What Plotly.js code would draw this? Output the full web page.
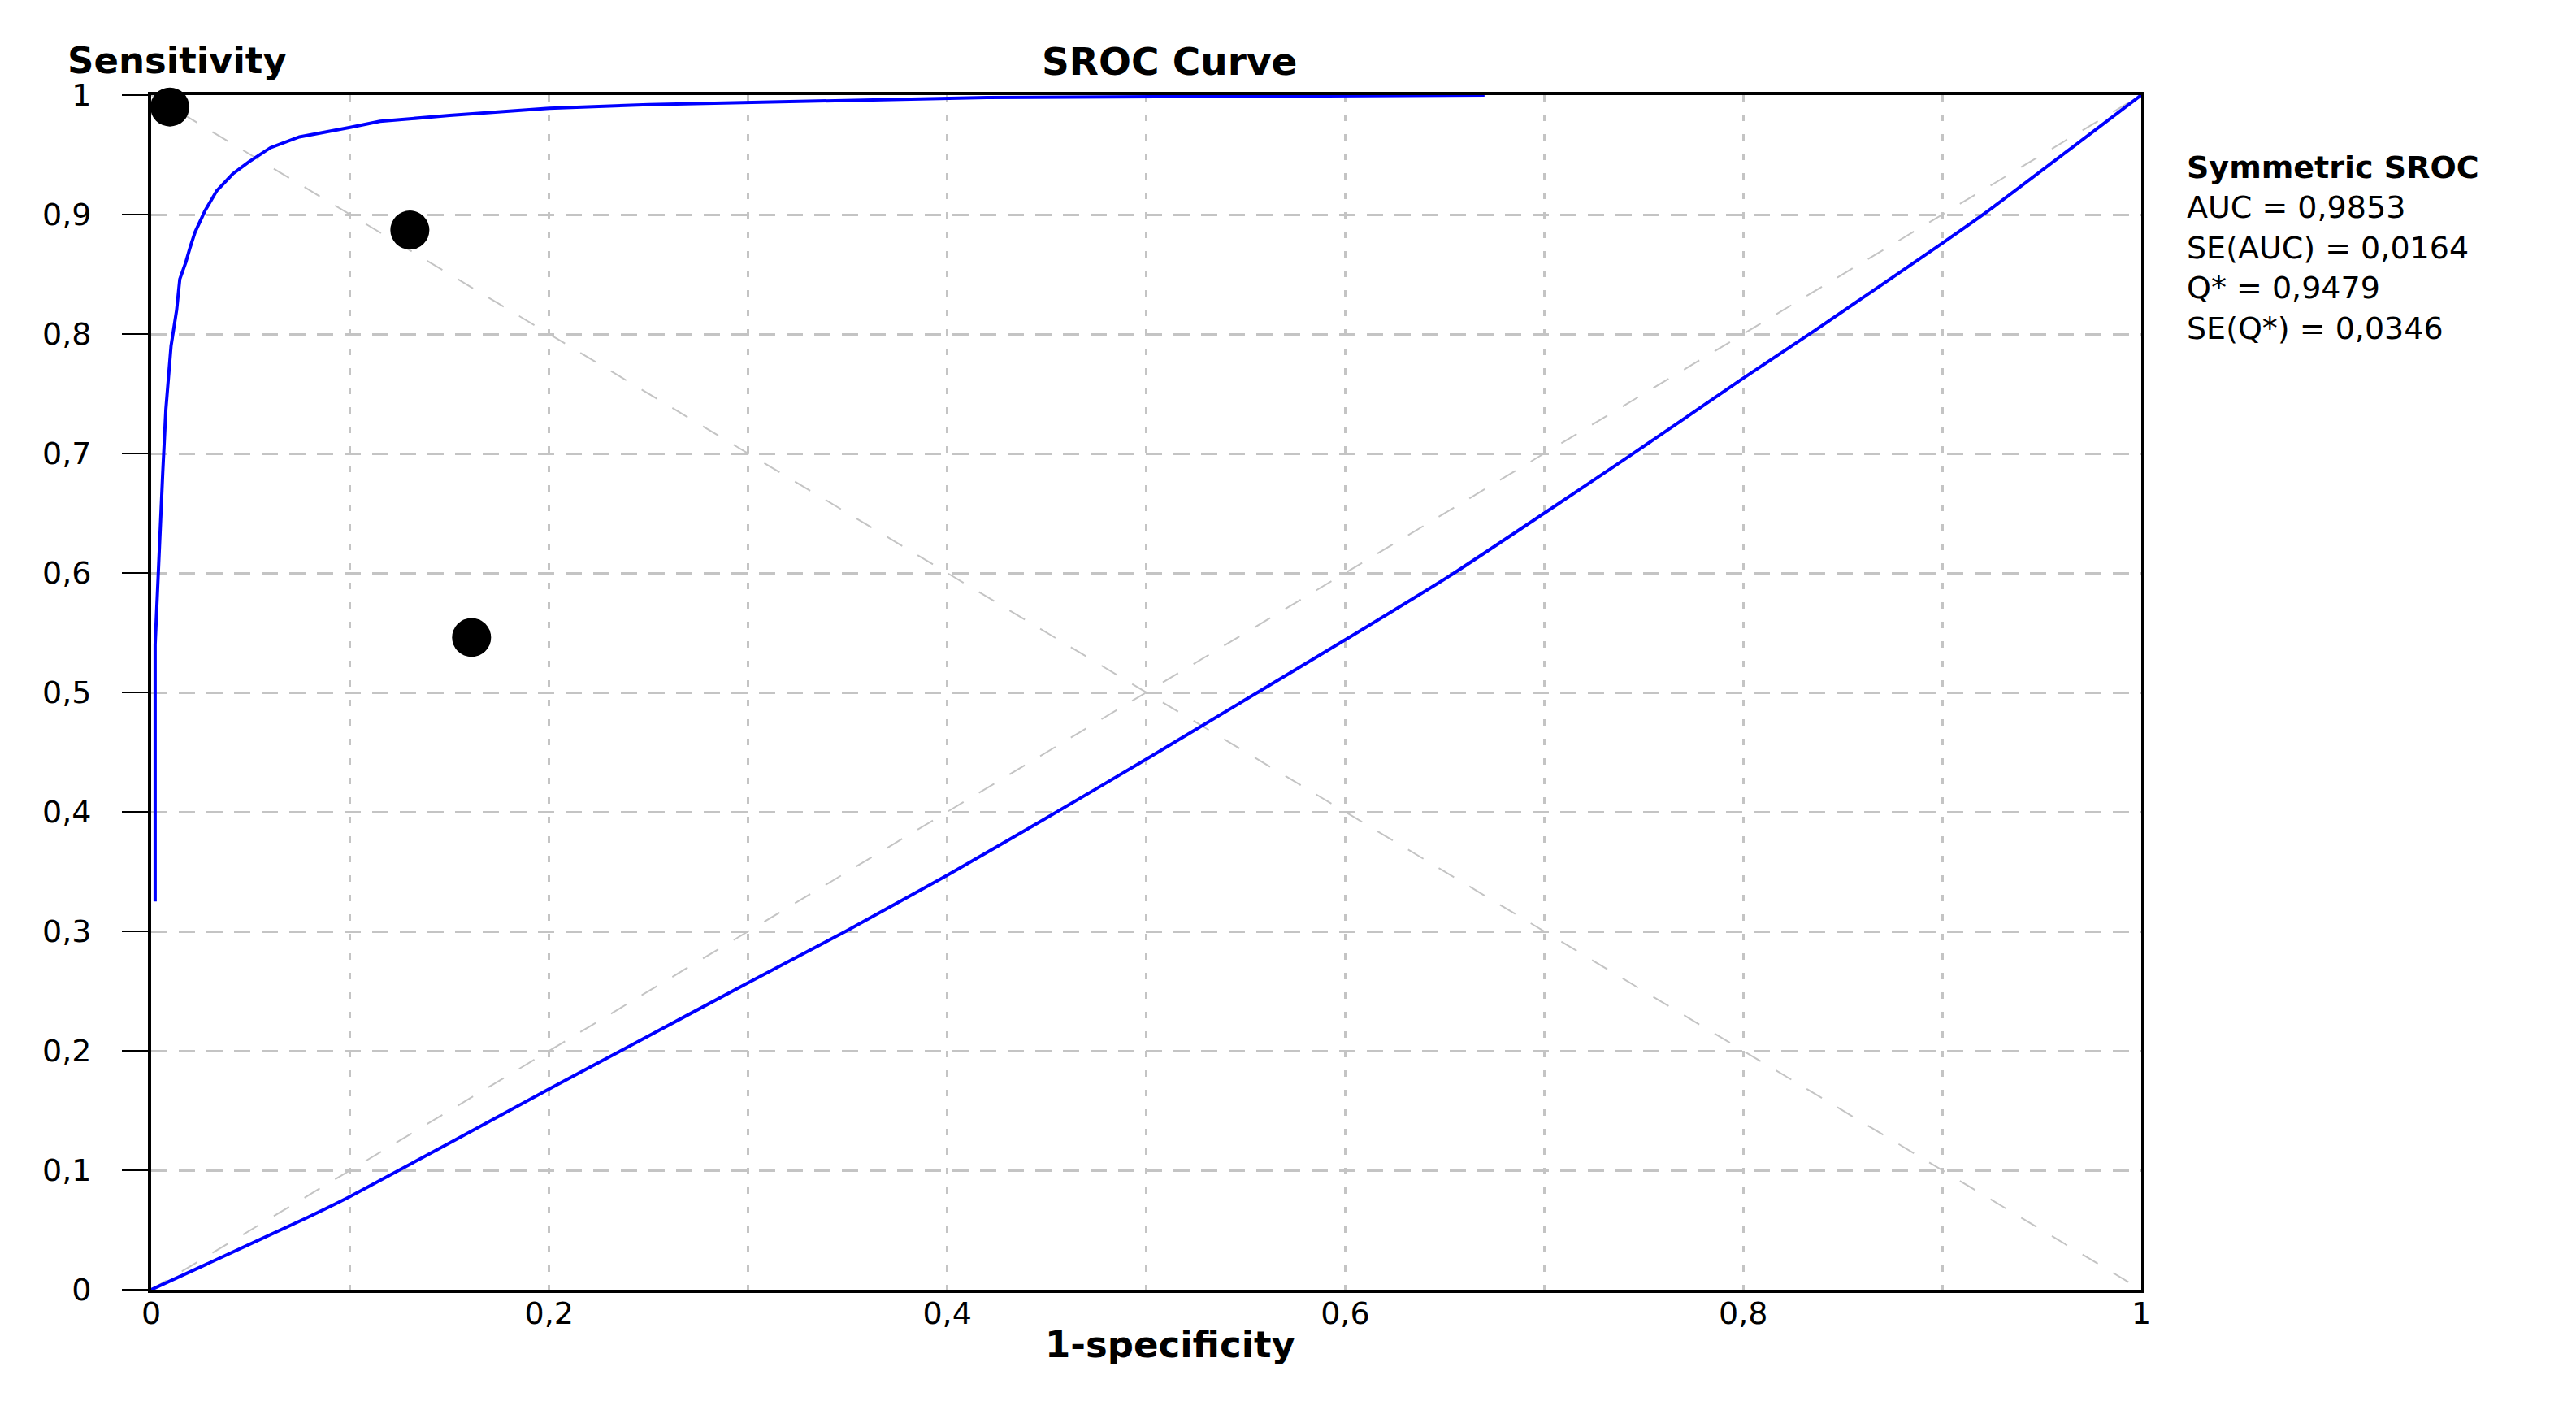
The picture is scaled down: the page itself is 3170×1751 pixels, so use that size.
<!DOCTYPE html>
<html>
<head>
<meta charset="utf-8">
<script src="https://cdn.plot.ly/plotly-3.0.1.min.js"></script>
<style>
  html, body { margin: 0; padding: 0; background: #fff; }
  #chartplot { width: 3170px; height: 1751px; }
</style>
</head>
<body>
<div id="chartplot"></div>
<script>
// symmetric SROC curve
const srocX = [0.002, 0.002, 0.0058, 0.0074, 0.010, 0.0128, 0.0144, 0.0174, 0.0195, 0.022, 0.027, 0.033, 0.041, 0.049, 0.060, 0.0745, 0.1, 0.115, 0.15, 0.2, 0.25, 0.33, 0.42, 0.55, 0.67];
const srocY = [0.325, 0.54, 0.683, 0.737, 0.79, 0.82, 0.846, 0.86, 0.872, 0.885, 0.903, 0.92, 0.934, 0.944, 0.956, 0.965, 0.973, 0.978, 0.983, 0.989, 0.992, 0.995, 0.998, 0.999, 1.0];

// second blue line, bowing under the diagonal
const lowX = [0, 0.078, 0.1, 0.2, 0.236, 0.3, 0.349, 0.4, 0.449, 0.5, 0.549, 0.6, 0.652, 0.7, 0.743, 0.8, 0.836, 0.9, 0.923, 1];
const lowY = [0, 0.06, 0.078, 0.168, 0.2, 0.257, 0.3, 0.347, 0.394, 0.444, 0.493, 0.544, 0.597, 0.65, 0.698, 0.763, 0.803, 0.876, 0.903, 1];

// study points
const studyX = [0.0094, 0.130, 0.161];
const studyY = [0.990, 0.887, 0.546];

// reference diagonals
const refX = [0, 1];
const diagY = [0, 1];
const antiY = [1, 0];

const tickVals = [0, 0.1, 0.2, 0.3, 0.4, 0.5, 0.6, 0.7, 0.8, 0.9, 1];
const yTickText = ['0', '0,1', '0,2', '0,3', '0,4', '0,5', '0,6', '0,7', '0,8', '0,9', '1'];
const xTickText = ['0', '', '0,2', '', '0,4', '', '0,6', '', '0,8', '', '1'];

const statLines = ['<b>Symmetric SROC</b>', 'AUC = 0,9853', 'SE(AUC) = 0,0164', 'Q* = 0,9479', 'SE(Q*) = 0,0346'];

const FONT = 'DejaVu Sans';
const grey = '#c4c4c4';

const data = [
    { type: 'scatter', mode: 'lines', x: refX, y: diagY,
      line: { color: grey, width: 2, dash: '22px,22px' }, hoverinfo: 'skip' },
    { type: 'scatter', mode: 'lines', x: refX, y: antiY,
      line: { color: grey, width: 2, dash: '22px,22px' }, hoverinfo: 'skip' },
    { type: 'scatter', mode: 'lines', x: lowX, y: lowY,
      line: { color: '#0000ff', width: 4, shape: 'spline', smoothing: 0.5 } },
    { type: 'scatter', mode: 'lines', x: srocX, y: srocY,
      line: { color: '#0000ff', width: 4 } },
    { type: 'scatter', mode: 'markers', x: studyX, y: studyY, cliponaxis: false,
      marker: { color: '#000', size: 48, line: { width: 0 } } },
];

const annotations = [
    {   // stats block
        xref: 'paper', yref: 'paper', x: 1.022, y: 0.872,
        xanchor: 'left', yanchor: 'middle', align: 'left', showarrow: false,
        text: statLines.join('<br>'),
        font: { family: FONT, size: 38, color: '#000' },
    },
    {
        xref: 'paper', yref: 'paper', x: -0.0429, y: 1.0286,
        xanchor: 'left', yanchor: 'middle', showarrow: false,
        text: '<b>Sensitivity</b>',
        font: { family: FONT, size: 45, color: '#000' },
    },
    {
        xref: 'paper', yref: 'paper', x: 0.512, y: -0.0456,
        xanchor: 'center', yanchor: 'middle', showarrow: false,
        text: '<b>1-specificity</b>',
        font: { family: FONT, size: 45, color: '#000' },
    },
];

const layout = {
    width: 3170,
    height: 1751,
    showlegend: false,
    paper_bgcolor: '#fff',
    plot_bgcolor: '#fff',
    margin: { l: 186, r: 535, t: 117, b: 164 },
    title: {
        text: '<b>SROC Curve</b>',
        x: 0.454, xanchor: 'center',
        y: 0.957, yanchor: 'middle',
        font: { family: FONT, size: 47, color: '#000' },
    },
    xaxis: {
        range: [0, 1],
        tickvals: tickVals,
        ticktext: xTickText,
        ticks: '',
        ticklabelstandoff: -8,
        showgrid: true,
        gridcolor: grey,
        gridwidth: 3,
        griddash: '8px,16px',
        zeroline: false,
        showline: true,
        linecolor: '#000',
        linewidth: 4,
        mirror: true,
        tickfont: { family: FONT, size: 38, color: '#000' },
    },
    yaxis: {
        range: [0, 1],
        tickvals: tickVals,
        ticktext: yTickText,
        ticks: 'outside',
        ticklen: 32,
        tickwidth: 2,
        tickcolor: '#000',
        ticklabelstandoff: 30,
        showgrid: true,
        gridcolor: grey,
        gridwidth: 3,
        griddash: '20px,14px',
        zeroline: false,
        showline: true,
        linecolor: '#000',
        linewidth: 4,
        mirror: true,
        tickfont: { family: FONT, size: 38, color: '#000' },
    },
    annotations: annotations,
};

Plotly.newPlot('chartplot', data, layout, { staticPlot: true });
</script>
</body>
</html>
